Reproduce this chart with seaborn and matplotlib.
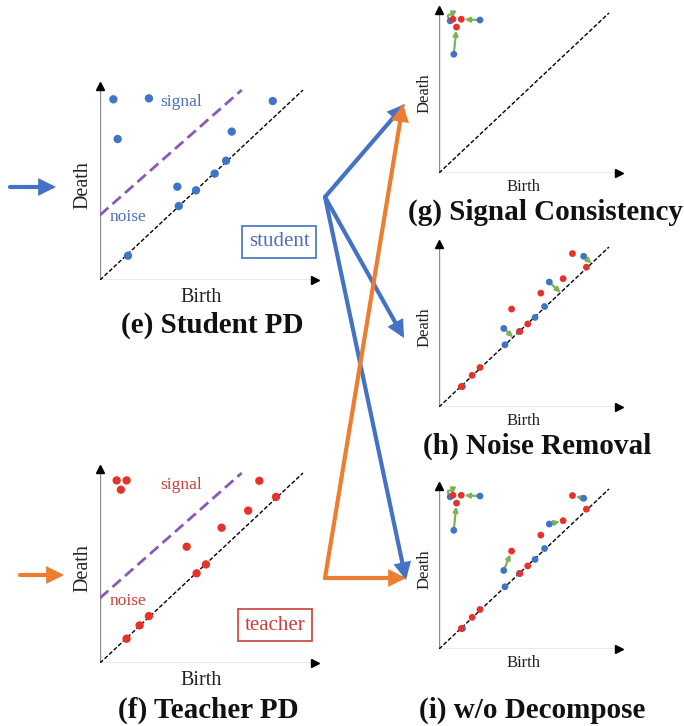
import numpy as np
import matplotlib.pyplot as plt
import seaborn as sns

sns.set_theme(style="white")
plt.rcParams['font.family'] = ['Liberation Serif', 'DejaVu Serif']

# persistence diagram points (birth, death), normalised to the diagonal length
student_birth = [0.066, 0.241, 0.087, 0.851, 0.649, 0.621, 0.565, 0.473, 0.381, 0.388, 0.138]
student_death = [0.951, 0.956, 0.742, 0.942, 0.781, 0.628, 0.560, 0.472, 0.491, 0.389, 0.128]
teacher_birth = [0.082, 0.131, 0.103, 0.785, 0.867, 0.730, 0.599, 0.427, 0.522, 0.476, 0.241, 0.195, 0.131]
teacher_death = [0.961, 0.961, 0.912, 0.959, 0.874, 0.802, 0.712, 0.612, 0.519, 0.472, 0.247, 0.198, 0.128]
signal_student = [0, 1, 2]
signal_teacher = [0, 1, 2]
# student -> teacher matches used for the noise part without decomposition
noise_student = [3, 4, 8]
noise_teacher = [3, 5, 7]
# separating line between signal and noise
sep_birth = [0.0, 0.698]
sep_death = [0.342, 1.0]

BLUE = '#4472c4'
ORANGE = '#ed7d31'
RED = '#e5332c'
DOT_BLUE = '#3f74c6'
GREEN = '#7cb356'
PURPLE = '#8a58b8'
TXT_BLUE = '#4c6fb8'
TXT_RED = '#c9403a'

W, H = 684, 726
fig = plt.figure(figsize=(W / 100, H / 100), dpi=100)
ov = fig.add_axes([0, 0, 1, 1])
ov.set_xlim(0, W)
ov.set_ylim(H, 0)
ov.axis('off')
ov.set_facecolor('none')


def make_panel(ox, oy, ux, uy, fs):
    xmax, ymax = 1.08, 1.04
    ax = fig.add_axes([ox / W, 1 - oy / H, ux * xmax / W, uy * ymax / H])
    ax.set_facecolor('none')
    ax.set_xlim(0, xmax)
    ax.set_ylim(0, ymax)
    ax.axis('off')
    ax.plot([0, 1.06], [0, 0], color='#8c8c8c', lw=1)
    ax.plot([0, 0], [0, 1.02], color='#8c8c8c', lw=1)
    ax.plot(1.06, 0, marker='>', ms=6, color='black', clip_on=False)
    ax.plot(0, 1.02, marker='^', ms=6, color='black', clip_on=False)
    ax.plot([0, 1], [0, 1], color='black', lw=1, ls=(0, (3, 1.5)))
    ax.text(0.5, -0.09, 'Birth', ha='center', va='center', fontsize=fs, color='#222222')
    ax.text(-0.085, 0.5, 'Death', ha='center', va='center', rotation=90,
            fontsize=fs, color='#222222')
    return ax


def dots(ax, xs, ys, color, s):
    sns.scatterplot(x=xs, y=ys, ax=ax, color=color, s=s, edgecolor='none',
                    zorder=3, clip_on=False, legend=False)


def green_arrow(ax, start, end, conn='arc3,rad=0', sa=2.5, sb_=2.5):
    ax.annotate('', xy=end, xytext=start,
                arrowprops=dict(arrowstyle='-|>', color=GREEN, lw=1.6, mutation_scale=7,
                                shrinkA=sa, shrinkB=sb_, connectionstyle=conn),
                zorder=2, annotation_clip=False)


sb = np.array(student_birth)
sd = np.array(student_death)
tb = np.array(teacher_birth)
td = np.array(teacher_death)
s_noise = [i for i in range(len(sb)) if i not in signal_student]
t_noise = [i for i in range(len(tb)) if i not in signal_teacher]

# (e) student PD
ax_e = make_panel(100, 280, 203, 190, 14.5)
ax_e.plot(sep_birth, sep_death, color=PURPLE, lw=2, ls=(0, (4, 2)))
dots(ax_e, sb, sd, DOT_BLUE, 36)
ax_e.text(0.40, 0.935, 'signal', ha='center', va='center', fontsize=12.5, color=TXT_BLUE)
ax_e.text(0.14, 0.33, 'noise', ha='center', va='center', fontsize=12.5, color=TXT_BLUE)

# (f) teacher PD
ax_f = make_panel(100, 663, 203, 190, 14.5)
ax_f.plot(sep_birth, sep_death, color=PURPLE, lw=2, ls=(0, (4, 2)))
dots(ax_f, tb, td, RED, 36)
ax_f.text(0.40, 0.935, 'signal', ha='center', va='center', fontsize=12.5, color=TXT_RED)
ax_f.text(0.14, 0.325, 'noise', ha='center', va='center', fontsize=12.5, color=TXT_RED)

ov.text(279, 242, 'student', ha='center', va='center', fontsize=15, color=TXT_BLUE,
        bbox=dict(boxstyle='square,pad=0.32', fc='white', ec=BLUE, lw=1.2))
ov.text(275, 625, 'teacher', ha='center', va='center', fontsize=15, color=TXT_RED,
        bbox=dict(boxstyle='square,pad=0.32', fc='white', ec=TXT_RED, lw=1.2))


def signal_links(ax):
    for k, (i, j) in enumerate(zip(signal_student, signal_teacher)):
        a = (sb[i], sd[i])
        b = (tb[j], td[j])
        if k == 0:
            # small curl over the top for the nearly coincident pair
            green_arrow(ax, a, b, conn='arc,angleA=120,angleB=90,armA=7,armB=5,rad=3',
                        sa=1, sb_=1)
        else:
            green_arrow(ax, a, b)


# (g) signal consistency
ax_g = make_panel(439, 173, 170, 160, 12)
signal_links(ax_g)
dots(ax_g, sb[signal_student], sd[signal_student], DOT_BLUE, 24)
dots(ax_g, tb[signal_teacher], td[signal_teacher], RED, 24)

# (h) noise removal: student noise pushed to the diagonal
ax_h = make_panel(439, 407, 170, 160, 12)
for i in noise_student:
    m = (sb[i] + sd[i]) / 2
    green_arrow(ax_h, (sb[i], sd[i]), (m, m), sa=2, sb_=0)
dots(ax_h, sb[s_noise], sd[s_noise], DOT_BLUE, 24)
dots(ax_h, tb[t_noise], td[t_noise], RED, 24)

# (i) without decomposition
ax_i = make_panel(439, 649, 170, 160, 12)
signal_links(ax_i)
for i, j in zip(noise_student, noise_teacher):
    green_arrow(ax_i, (sb[i], sd[i]), (tb[j], td[j]))
dots(ax_i, sb, sd, DOT_BLUE, 24)
dots(ax_i, tb, td, RED, 24)

# titles
titles = [('(e) Student PD', 212, 325), ('(f) Teacher PD', 208, 710),
          ('(g) Signal Consistency', 545, 212), ('(h) Noise Removal', 537, 446),
          ('(i) w/o Decompose', 532, 710)]
for t, x, y in titles:
    ov.text(x, y, t, ha='center', va='center', fontsize=21, fontweight='bold', color='#111111')


def big_arrow(p0, p1, color):
    ov.annotate('', xy=p1, xytext=p0,
                arrowprops=dict(arrowstyle='-|>', color=color, lw=3.0, mutation_scale=20,
                                shrinkA=0, shrinkB=0, joinstyle='miter'))


big_arrow((10, 187), (56, 187), BLUE)
big_arrow((20, 575), (64, 575), ORANGE)
big_arrow((325, 197), (405, 104), BLUE)
big_arrow((325, 197), (404, 338), BLUE)
big_arrow((325, 197), (406, 580), BLUE)
big_arrow((325, 578), (403, 104), ORANGE)
big_arrow((325, 578), (406, 578), ORANGE)

fig.savefig('out.png', dpi=100)
